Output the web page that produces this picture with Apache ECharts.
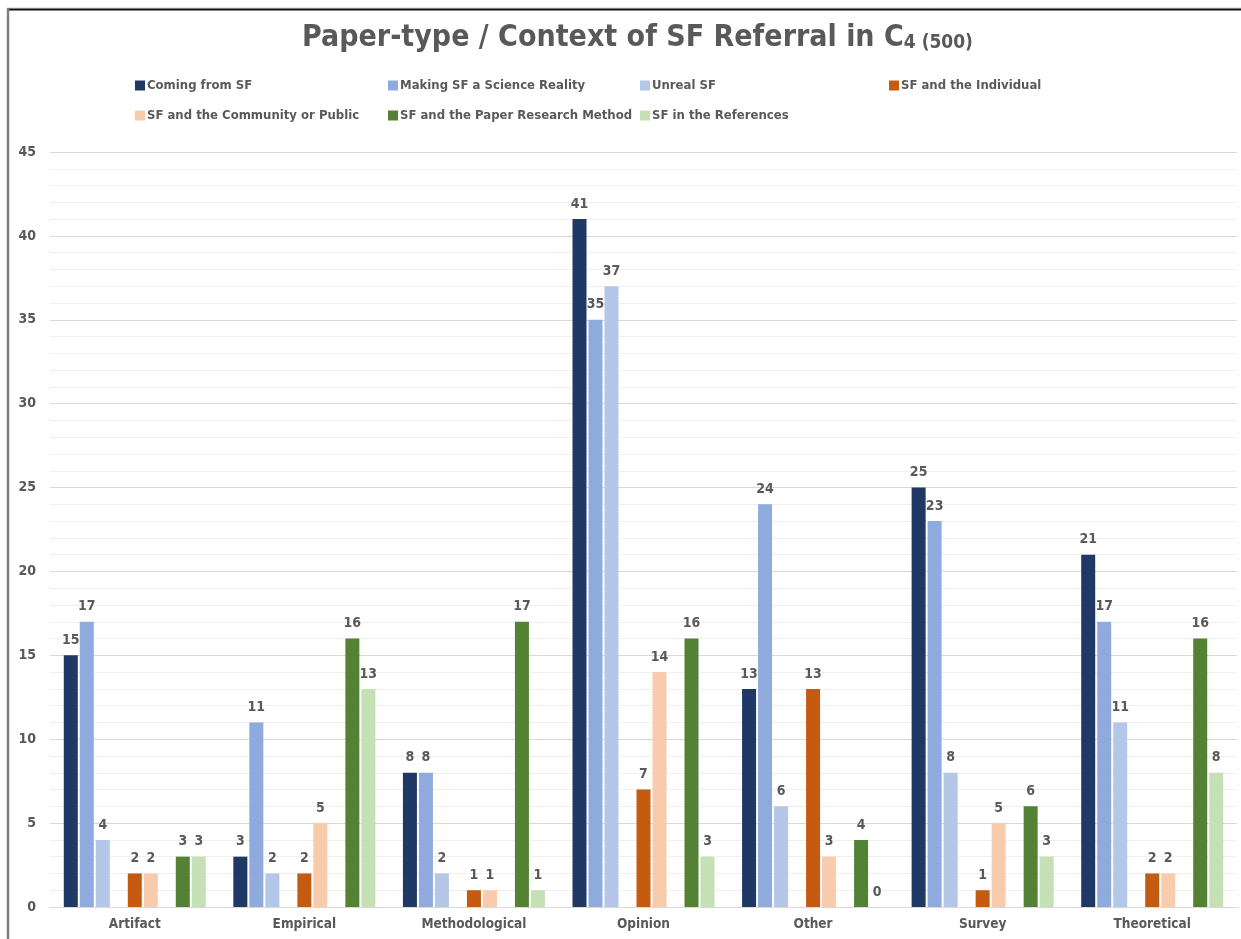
<!DOCTYPE html>
<html>
<head>
<meta charset="utf-8">
<script src="https://cdn.jsdelivr.net/npm/echarts@6/dist/echarts.min.js"></script>
<style>
  html, body { margin: 0; padding: 0; background: #ffffff; }
  #chart { width: 1241px; height: 939px; }
</style>
</head>
<body>
<div id="chart"></div>
<script>
// Paper types along the x axis
const categories = ['Artifact', 'Empirical', 'Methodological', 'Opinion', 'Other', 'Survey', 'Theoretical'];

// Counts per referral context
const comingFromSF      = [15, 3, 8, 41, 13, 25, 21];
const makingSFReality   = [17, 11, 8, 35, 24, 23, 17];
const unrealSF          = [4, 2, 2, 37, 6, 8, 11];
const sfIndividual      = [2, 2, 1, 7, 13, 1, 2];
const sfCommunity       = [2, 5, 1, 14, 3, 5, 2];
const sfResearchMethod  = [3, 16, 17, 16, 4, 6, 16];
const sfReferences      = [3, 13, 1, 3, 0, 3, 8];

const seriesNames = [
  'Coming from SF',
  'Making SF a Science Reality',
  'Unreal SF',
  'SF and the Individual',
  'SF and the Community or Public',
  'SF and the Paper Research Method',
  'SF in the References'
];

const yTicks = [0, 5, 10, 15, 20, 25, 30, 35, 40, 45];

const FONT = "'DejaVu Sans Condensed', 'Liberation Sans Narrow', 'Roboto', sans-serif";
const GREY = '#595959';

const colors = ['#203864', '#8FAADC', '#B4C7E7', '#C55A11', '#F8CBAD', '#548235', '#C5E0B4'];

function barSeries(name, data, color) {
  return {
    name: name,
    type: 'bar',
    data: data,
    barWidth: 14,
    barGap: '14.3%',
    itemStyle: { color: color },
    label: {
      show: true,
      position: 'top',
      distance: 8,
      color: GREY,
      fontFamily: FONT,
      fontWeight: 'bold',
      fontSize: 14
    }
  };
}

// empty slots that keep the grouped spacing between context families
function spacer(name) {
  return {
    name: name,
    type: 'bar',
    data: categories.map(() => null),
    barWidth: 14,
    barGap: '14.3%',
    silent: true
  };
}

const legendCols = [135, 388, 640, 889];
const legendRows = [79, 109];
const legends = seriesNames.map((n, i) => ({
  data: [n],
  left: legendCols[i % 4],
  top: legendRows[Math.floor(i / 4)],
  padding: 0,
  itemWidth: 10,
  itemHeight: 10,
  icon: 'rect',
  textStyle: {
    color: GREY,
    fontFamily: FONT,
    fontWeight: 'bold',
    fontSize: 13,
    padding: [0, 0, 0, -3]
  },
  selectedMode: false
}));

const chart = echarts.init(document.getElementById('chart'), null, { renderer: 'canvas' });

chart.setOption({
  animation: false,
  backgroundColor: '#ffffff',
  color: colors,
  title: {
    text: '{main|Paper-type / Context of SF Referral in C}{sub|4 (500)}',
    left: 302,
    top: 13,
    padding: 0,
    textStyle: {
      rich: {
        main: { fontFamily: FONT, fontWeight: 'bold', fontSize: 30, color: GREY, verticalAlign: 'bottom', lineHeight: 40 },
        sub: { fontFamily: FONT, fontWeight: 'bold', fontSize: 19, color: GREY, verticalAlign: 'bottom', lineHeight: 32 }
      }
    }
  },
  legend: legends,
  grid: { left: 50, right: 4, top: 152, bottom: 32, containLabel: false },
  xAxis: {
    type: 'category',
    data: categories,
    axisTick: { show: false },
    axisLine: { show: true, lineStyle: { color: '#d9d9d9', width: 1 } },
    axisLabel: { color: GREY, fontFamily: FONT, fontWeight: 'bold', fontSize: 13.5, margin: 10 }
  },
  yAxis: {
    type: 'value',
    min: yTicks[0],
    max: yTicks[yTicks.length - 1],
    interval: 5,
    axisLine: { show: false },
    axisTick: { show: false },
    axisLabel: { color: GREY, fontFamily: FONT, fontWeight: 'bold', fontSize: 14, margin: 14 },
    splitLine: { lineStyle: { color: '#d9d9d9', width: 1 } },
    minorTick: { show: false, splitNumber: 5 },
    minorSplitLine: { show: true, lineStyle: { color: '#efefef', width: 1 } }
  },
  series: [
    barSeries(seriesNames[0], comingFromSF, colors[0]),
    barSeries(seriesNames[1], makingSFReality, colors[1]),
    barSeries(seriesNames[2], unrealSF, colors[2]),
    spacer('gapA'),
    barSeries(seriesNames[3], sfIndividual, colors[3]),
    barSeries(seriesNames[4], sfCommunity, colors[4]),
    spacer('gapB'),
    barSeries(seriesNames[5], sfResearchMethod, colors[5]),
    barSeries(seriesNames[6], sfReferences, colors[6])
  ],
  graphic: [
    { type: 'line', shape: { x1: 7, y1: 8, x2: 1241, y2: 8 }, style: { stroke: '#d0d0d0', lineWidth: 1 } },
    { type: 'line', shape: { x1: 7, y1: 9.5, x2: 1241, y2: 9.5 }, style: { stroke: '#111111', lineWidth: 2 } },
    { type: 'line', shape: { x1: 8, y1: 9, x2: 8, y2: 939 }, style: { stroke: '#808080', lineWidth: 2.5 } }
  ]
});
</script>
</body>
</html>
